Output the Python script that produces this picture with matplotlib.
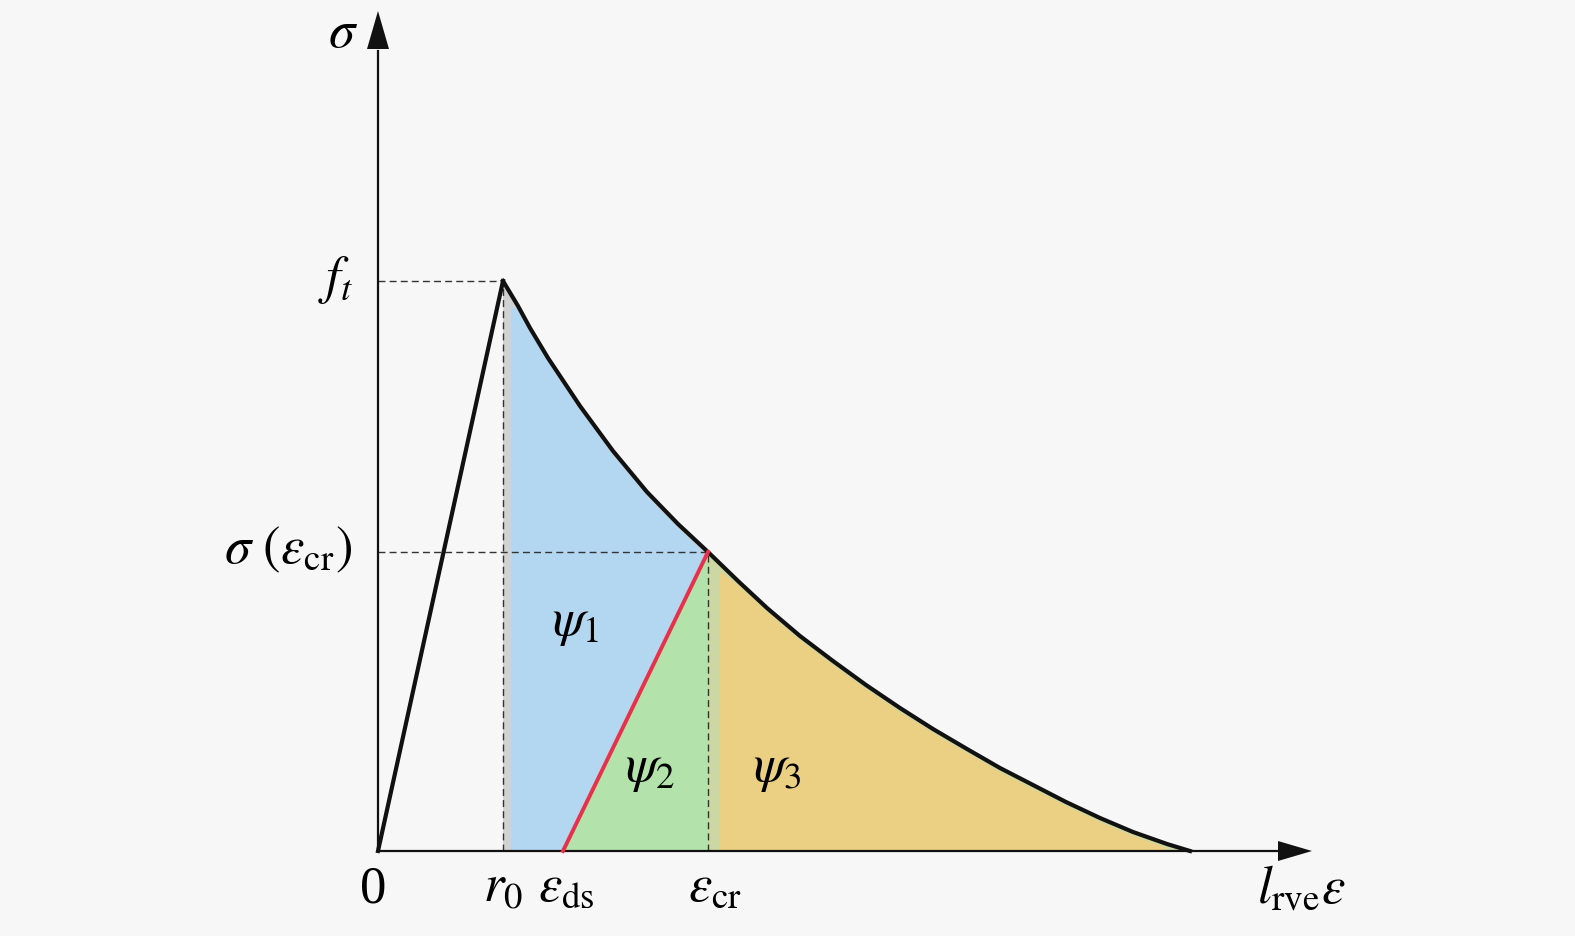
import matplotlib
matplotlib.use("Agg")
import matplotlib.pyplot as plt
import numpy as np

plt.rcParams['mathtext.fontset'] = 'stix'
plt.rcParams['font.family'] = ['Liberation Serif', 'DejaVu Serif']

# key values (strain along x, stress along y)
r0 = 1.25
eps_ds = 1.85
eps_cr = 3.30
eps_end = 8.12
ft = 5.70
sig_cr = 2.99

# softening curve
curve_x = [1.25, 1.40, 1.52, 1.70, 2.02, 2.35, 2.69, 3.00, 3.30, 3.60, 3.89,
           4.22, 4.55, 4.88, 5.22, 5.55, 5.89, 6.22, 6.55, 6.88, 7.22, 7.55,
           7.89, 8.12]
curve_y = [5.70, 5.45, 5.23, 4.93, 4.45, 4.00, 3.59, 3.27, 2.99, 2.70, 2.43,
           2.15, 1.90, 1.66, 1.43, 1.22, 1.02, 0.83, 0.66, 0.49, 0.33, 0.19,
           0.07, 0.0]

bg = '#f7f7f7'
fig = plt.figure(figsize=(15.75, 9.37), dpi=100, facecolor=bg)
ax = fig.add_axes([0, 0, 1, 1])
ax.set_facecolor(bg)
ax.set_xlim(-3.78, 11.97)
ax.set_ylim(-0.85, 8.52)
ax.axis('off')

cx = np.array(curve_x)
cy = np.array(curve_y)

# gray backing under the coloured areas
ax.fill(np.r_[r0, cx, r0], np.r_[0, cy, 0], color='#d2d2d2', lw=0, zorder=1)

# psi1 (blue)
x_b0 = r0 + 0.08
m = (cx > x_b0) & (cx <= eps_cr)
bx = np.r_[x_b0, x_b0, cx[m], eps_ds]
by = np.r_[0, np.interp(x_b0, cx, cy) - 0.12, cy[m] - 0.04, 0]
ax.fill(bx, by, color='#b3d6f1', lw=0, zorder=2)

# psi2 (green)
ax.fill([eps_ds, eps_cr, eps_cr], [0, sig_cr, 0], color='#b3e2ab', lw=0, zorder=2)

# psi3 (orange) with a thin greenish strip at its left edge
m3 = cx >= eps_cr
ax.fill(np.r_[eps_cr, cx[m3]], np.r_[0, cy[m3]], color='#cdd7a4', lw=0, zorder=2)
x_o0 = eps_cr + 0.12
m3 = cx > x_o0
ax.fill(np.r_[x_o0, x_o0, cx[m3][:-1], eps_end - 0.25],
        np.r_[0, np.interp(x_o0, cx, cy) - 0.08, cy[m3][:-1] - 0.04, 0],
        color='#ebcf82', lw=0, zorder=2)

# dashed guide lines
dash = dict(color='#333333', lw=1.0, ls=(0, (5, 3)), zorder=3)
ax.plot([0, r0], [ft, ft], **dash)
ax.plot([r0, r0], [0, ft], **dash)
ax.plot([0, eps_cr], [sig_cr, sig_cr], **dash)
ax.plot([eps_cr, eps_cr], [0, sig_cr], **dash)

# axes with arrows
ax.plot([0, 9.0], [0, 0], color='#111111', lw=1.6, zorder=4)
ax.plot([0, 0], [0, 8.0], color='#111111', lw=1.6, zorder=4)
ax.fill([9.0, 9.34, 9.0], [0.1, 0, -0.1], color='#111111', lw=0, zorder=4)
ax.fill([-0.11, 0, 0.11], [8.02, 8.40, 8.02], color='#111111', lw=0, zorder=4)

# constitutive curve
ax.plot([0, r0], [0, ft], color='#111111', lw=3, zorder=5, solid_joinstyle='round')
ax.plot(curve_x, curve_y, color='#111111', lw=3, zorder=5, solid_joinstyle='round')
ax.plot([eps_ds, eps_cr], [0, sig_cr], color='#e8304a', lw=2.8, zorder=5)

fs = 38
ax.text(-0.35, 8.18, r'$\sigma$', fontsize=fs, ha='center', va='center')
ax.text(-0.42, 5.72, r'$f_t$', fontsize=fs, ha='center', va='center')
ax.text(-0.26, 3.02, r'$\sigma\ (\varepsilon_{\mathrm{cr}})$', fontsize=fs,
        ha='right', va='center')
ax.text(-0.05, -0.38, '0', fontsize=fs, ha='center', va='center')
ax.text(r0, -0.36, r'$r_0$', fontsize=fs, ha='center', va='center')
ax.text(eps_ds + 0.03, -0.36, r'$\varepsilon_{\mathrm{ds}}$', fontsize=fs,
        ha='center', va='center')
ax.text(eps_cr + 0.07, -0.36, r'$\varepsilon_{\mathrm{cr}}$', fontsize=fs,
        ha='center', va='center')
ax.text(9.23, -0.38, r'$l_{\mathrm{rve}}\varepsilon$', fontsize=fs,
        ha='center', va='center')
ax.text(1.98, 2.28, r'$\psi_1$', fontsize=fs, ha='center', va='center')
ax.text(2.72, 0.82, r'$\psi_2$', fontsize=fs, ha='center', va='center')
ax.text(3.99, 0.82, r'$\psi_3$', fontsize=fs, ha='center', va='center')

fig.savefig('out.png', dpi=100, facecolor=bg)
